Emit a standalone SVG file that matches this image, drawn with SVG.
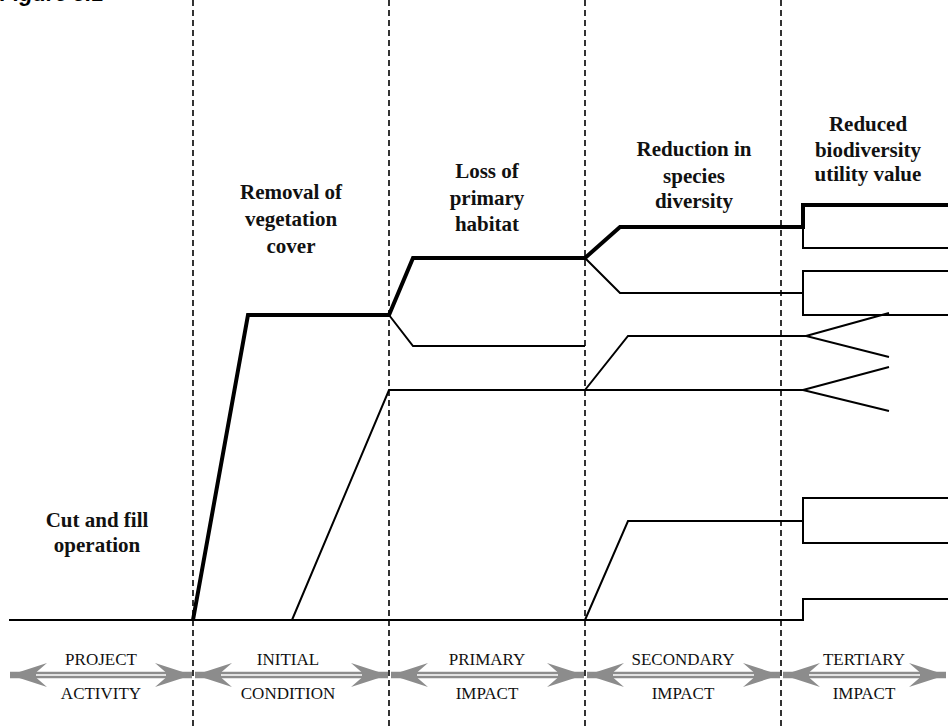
<svg xmlns="http://www.w3.org/2000/svg" width="948" height="728" viewBox="0 0 948 728">
<defs>
<style>
.dash{stroke:#000;stroke-width:1.6;stroke-dasharray:6 4;fill:none}
.thin{stroke:#000;stroke-width:2;fill:none;stroke-linejoin:miter}
.thick{stroke:#000;stroke-width:4;fill:none;stroke-linejoin:miter}
.head{font-family:'Liberation Serif','Times New Roman','DejaVu Serif',serif;font-weight:bold;font-size:21px;text-anchor:middle;fill:#111}
.phase{font-family:'Liberation Serif','Times New Roman','DejaVu Serif',serif;font-size:17px;text-anchor:middle;fill:#111}
.shaft{stroke:#8c8c8c;stroke-width:6.5;fill:none}
.gap{stroke:#fff;stroke-width:1.5;fill:none}
.title{font-family:'Liberation Sans',Arial,sans-serif;font-weight:bold;font-style:italic;font-size:22px;fill:#000}
</style>
<marker id="ah" viewBox="-40 -14 42 28" refX="0" refY="0" markerWidth="42" markerHeight="28" markerUnits="userSpaceOnUse" orient="auto-start-reverse">
<path d="M0,0 L-37,-12 L-26,-2.5 L-26,2.5 L-37,12 Z" fill="#8c8c8c"/>
</marker>
</defs>
<rect width="948" height="728" fill="#fff"/>
<text class="title" x="0" y="1">Figure 5.1</text>

<g id="dividers">
<line class="dash" x1="193" y1="0" x2="193" y2="728"/>
<line class="dash" x1="389" y1="0" x2="389" y2="728"/>
<line class="dash" x1="585" y1="0" x2="585" y2="728"/>
<line class="dash" x1="781" y1="0" x2="781" y2="728"/>
</g>

<g id="connectors">
<path class="thin" d="M9,620 L803,620 L803,599 L948,599"/>
<path class="thick" d="M193,620 L248,315 L389,315 L413,258 L585,258 L620,227 L803,227 L803,205 L948,205"/>
<path class="thin" d="M803,227 L803,248 L948,248"/>
<path class="thin" d="M389,315 L413,346 L585,346"/>
<path class="thin" d="M585,258 L620,293 L803,293"/>
<path class="thin" d="M948,271 L803,271 L803,315 L948,315"/>
<path class="thin" d="M292,620 L389,390 L803,390"/>
<path class="thin" d="M889,367 L803,390 L889,411"/>
<path class="thin" d="M585,390 L628,336 L806,336"/>
<path class="thin" d="M889,313 L806,336 L889,357"/>
<path class="thin" d="M585,620 L628,521 L803,521"/>
<path class="thin" d="M948,498 L803,498 L803,543 L948,543"/>
</g>

<g id="n-cut" font-family="Liberation Serif, serif">
<text class="head" x="97" y="527">Cut and fill</text>
<text class="head" x="97" y="552">operation</text>
</g>
<g id="n-removal">
<text class="head" x="291" y="199">Removal of</text>
<text class="head" x="291" y="226">vegetation</text>
<text class="head" x="291" y="253">cover</text>
</g>
<g id="n-loss">
<text class="head" x="487" y="178">Loss of</text>
<text class="head" x="487" y="205">primary</text>
<text class="head" x="487" y="231">habitat</text>
</g>
<g id="n-reduction">
<text class="head" x="694" y="156">Reduction in</text>
<text class="head" x="694" y="183">species</text>
<text class="head" x="694" y="208">diversity</text>
</g>
<g id="n-reduced">
<text class="head" x="868" y="131">Reduced</text>
<text class="head" x="868" y="157">biodiversity</text>
<text class="head" x="868" y="181">utility value</text>
</g>

<g id="phase-project">
<line class="shaft" x1="10" y1="675" x2="192" y2="675" marker-start="url(#ah)" marker-end="url(#ah)"/>
<line class="gap" x1="36" y1="675" x2="166" y2="675"/>
<text class="phase" x="101" y="665">PROJECT</text>
<text class="phase" x="101" y="699">ACTIVITY</text>
</g>
<g id="phase-initial">
<line class="shaft" x1="195" y1="675" x2="388" y2="675" marker-start="url(#ah)" marker-end="url(#ah)"/>
<line class="gap" x1="221" y1="675" x2="362" y2="675"/>
<text class="phase" x="288" y="665">INITIAL</text>
<text class="phase" x="288" y="699">CONDITION</text>
</g>
<g id="phase-primary">
<line class="shaft" x1="391" y1="675" x2="584" y2="675" marker-start="url(#ah)" marker-end="url(#ah)"/>
<line class="gap" x1="417" y1="675" x2="558" y2="675"/>
<text class="phase" x="487" y="665">PRIMARY</text>
<text class="phase" x="487" y="699">IMPACT</text>
</g>
<g id="phase-secondary">
<line class="shaft" x1="587" y1="675" x2="780" y2="675" marker-start="url(#ah)" marker-end="url(#ah)"/>
<line class="gap" x1="613" y1="675" x2="754" y2="675"/>
<text class="phase" x="683" y="665">SECONDARY</text>
<text class="phase" x="683" y="699">IMPACT</text>
</g>
<g id="phase-tertiary">
<line class="shaft" x1="783" y1="675" x2="946" y2="675" marker-start="url(#ah)" marker-end="url(#ah)"/>
<line class="gap" x1="809" y1="675" x2="920" y2="675"/>
<text class="phase" x="864" y="665">TERTIARY</text>
<text class="phase" x="864" y="699">IMPACT</text>
</g>
</svg>
